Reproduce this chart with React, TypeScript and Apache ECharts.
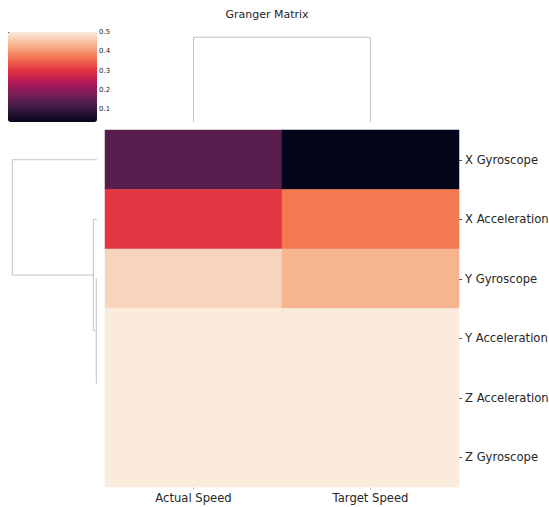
import React, { useEffect, useRef } from "react";
import * as echarts from "echarts";

const title = "Granger Matrix";
const columns = ["Actual Speed", "Target Speed"];
const rows = ["X Gyroscope", "X Acceleration", "Y Gyroscope", "Y Acceleration", "Z Acceleration", "Z Gyroscope"];
const actualSpeed = [0.141, 0.304, 0.472, 0.5, 0.5, 0.5];
const targetSpeed = [0.034, 0.37, 0.433, 0.5, 0.5, 0.5];
const colorMin = 0.034;
const colorMax = 0.5;
const colorTicks = [0.1, 0.2, 0.3, 0.4, 0.5];
const rocket = ["#03051a", "#35193e", "#701f57", "#ad1759", "#e13342", "#f37651", "#f6b48f", "#faebdd"];

// row dendrogram links (scipy style: leaf coords 5,15,..., heights)
const rowLinkI = [
  [45, 45, 55, 55],
  [35, 35, 50, 50],
  [25, 25, 42.5, 42.5],
  [15, 15, 33.75, 33.75],
  [5, 5, 24.375, 24.375],
];
const rowLinkD = [
  [0, 0, 0, 0],
  [0, 0, 0, 0],
  [0, 0.005, 0.005, 0],
  [0, 0.025, 0.025, 0.005],
  [0, 0.58, 0.58, 0.025],
];
// column dendrogram links
const colLinkI = [[5, 5, 15, 15]];
const colLinkD = [[0, 0.3, 0.3, 0]];

const lineColor = "#c4c4c4";

export default function App() {
  const ref = useRef<HTMLDivElement>(null);
  useEffect(() => {
    if (!ref.current) return;
    document.body.style.margin = "0";
    const chart = echarts.init(ref.current, null, { renderer: "svg" });
    const heatData: number[][] = [];
    rows.forEach((_, r) => {
      heatData.push([0, r, actualSpeed[r]]);
      heatData.push([1, r, targetSpeed[r]]);
    });
    const rowMax = Math.max(...rowLinkD.flat());
    const colMax = Math.max(...colLinkD.flat());
    const series: any[] = [
      {
        type: "heatmap",
        xAxisIndex: 0,
        yAxisIndex: 0,
        data: heatData,
        itemStyle: { borderWidth: 0 },
      },
    ];
    rowLinkI.forEach((ic, k) => {
      const dc = rowLinkD[k];
      if (Math.max(...dc) <= 0) return;
      series.push({
        type: "line",
        xAxisIndex: 1,
        yAxisIndex: 1,
        data: ic.map((v, j) => [dc[j], v]),
        symbol: "none",
        silent: true,
        lineStyle: { color: lineColor, width: 1 },
      });
    });
    colLinkI.forEach((ic, k) => {
      const dc = colLinkD[k];
      series.push({
        type: "line",
        xAxisIndex: 2,
        yAxisIndex: 2,
        data: ic.map((v, j) => [v, dc[j]]),
        symbol: "none",
        silent: true,
        lineStyle: { color: lineColor, width: 1 },
      });
    });
    const font = "DejaVu Sans";
    const hidden = { show: false };
    const g = { outerBoundsMode: "none", containLabel: false };
    chart.setOption({
      animation: false,
      title: {
        text: title,
        left: 262,
        textAlign: "center",
        top: 4,
        textStyle: { fontFamily: font, fontSize: 11, fontWeight: "normal", color: "#262626" },
      },
      grid: [
        { ...g, left: 105, top: 130, width: 354, height: 357 },
        { ...g, left: 8, top: 130, width: 89, height: 357 },
        { ...g, left: 105, top: 33, width: 354, height: 89 },
        { ...g, left: 8, top: 32, width: 89, height: 90 },
      ],
      xAxis: [
        {
          gridIndex: 0,
          type: "category",
          data: columns,
          position: "bottom",
          axisLine: hidden,
          splitLine: hidden,
          axisTick: { show: true, alignWithLabel: true, length: 3, lineStyle: { color: "#cccccc" } },
          axisLabel: { fontFamily: font, fontSize: 11.6, color: "#262626", margin: 5 },
        },
        {
          gridIndex: 1,
          type: "value",
          inverse: true,
          min: 0,
          max: rowMax * 1.05,
          show: false,
        },
        { gridIndex: 2, type: "value", min: 0, max: 20, show: false },
        { gridIndex: 3, type: "value", min: 0, max: 1, show: false },
      ],
      yAxis: [
        {
          gridIndex: 0,
          type: "category",
          data: rows,
          inverse: true,
          position: "right",
          axisLine: hidden,
          splitLine: hidden,
          axisTick: { show: true, alignWithLabel: true, length: 3, lineStyle: { color: "#555555" } },
          axisLabel: { fontFamily: font, fontSize: 11.6, color: "#262626", margin: 6 },
        },
        { gridIndex: 1, type: "value", inverse: true, min: 0, max: 60, show: false },
        { gridIndex: 2, type: "value", min: 0, max: colMax * 1.05, show: false },
        {
          gridIndex: 3,
          type: "value",
          min: colorMin,
          max: colorMax,
          position: "right",
          axisLine: hidden,
          splitLine: hidden,
          axisTick: { show: true, length: 3, customValues: colorTicks, lineStyle: { color: "#555555" } },
          axisLabel: {
            fontFamily: font,
            fontSize: 7,
            color: "#262626",
            margin: 2,
            customValues: colorTicks,
            formatter: (v: number) => String(Math.round(v * 10) / 10),
          },
        },
      ],
      visualMap: {
        type: "continuous",
        seriesIndex: 0,
        min: colorMin,
        max: colorMax,
        calculable: false,
        show: true,
        left: 8,
        top: 32,
        padding: 0,
        itemWidth: 89,
        itemHeight: 90,
        text: null,
        hoverLink: false,
        inRange: { color: rocket },
      },
      series,
    });
    return () => chart.dispose();
  }, []);
  return <div ref={ref} style={{ width: 549, height: 507 }} />;
}
